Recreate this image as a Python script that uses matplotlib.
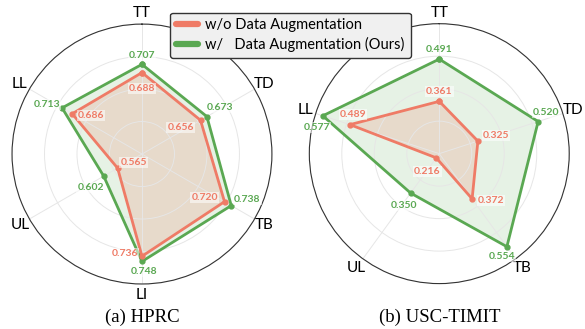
import numpy as np
import matplotlib.pyplot as plt

plt.rcParams['font.family'] = ['Lato', 'DejaVu Sans']

# HPRC (6 axes, clockwise from top)
hprc_labels = ["TT", "TD", "TB", "LI", "UL", "LL"]
hprc_base = [0.688, 0.656, 0.720, 0.736, 0.565, 0.686]
hprc_ours = [0.707, 0.673, 0.738, 0.748, 0.602, 0.713]

# USC-TIMIT (5 axes, clockwise from top)
usc_labels = ["TT", "TD", "TB", "UL", "LL"]
usc_base = [0.361, 0.325, 0.372, 0.216, 0.489]
usc_ours = [0.491, 0.520, 0.554, 0.350, 0.577]

RED = "#ef7b66"
GREEN = "#5aa852"

# value-label offsets in pixels (style only)
hprc_base_off = [(0, -16), (-20, -7), (-20, 4), (-17, 3), (16, 6), (19, -2)]
hprc_ours_off = [(0, 9), (13, 9), (16, 6), (2, -10), (-13, -11), (-15, 3)]
usc_base_off = [(0, 10), (18, 6), (19, -2), (-9, -14), (3, 10)]
usc_ours_off = [(0, 10), (8, 9), (-5, -10), (-7, -12), (-6, -12)]


def radar(ax, labels, base, ours, rlim, rticks, base_off, ours_off):
    n = len(labels)
    angles = np.linspace(0, 2 * np.pi, n, endpoint=False)
    ax.set_theta_offset(np.pi / 2)
    ax.set_theta_direction(-1)

    closed = np.append(angles, angles[0])
    for vals, color, falpha, offs in [(ours, GREEN, 0.15, ours_off),
                                      (base, RED, 0.2, base_off)]:
        v = np.append(vals, vals[0])
        ax.fill(closed, v, color=color, alpha=falpha, lw=0)
        ax.plot(closed, v, color=color, lw=2, marker="o", ms=3.5)
        for a, val, (dx, dy) in zip(angles, vals, offs):
            ax.annotate(f"{val:.3f}", (a, val), xytext=(dx, dy),
                        textcoords="offset pixels", ha="center", va="center",
                        fontsize=7.5, fontweight="bold", color=color,
                        bbox=dict(boxstyle="square,pad=0.1", fc="white",
                                  ec="none", alpha=0.55))

    ax.set_ylim(*rlim)
    ax.set_rticks(rticks)
    ax.set_yticklabels([])
    ax.set_xticks(angles)
    ax.set_xticklabels(labels, fontsize=11)
    ax.tick_params(axis="x", pad=1, length=0)
    ax.grid(color="#e6e6e6", lw=0.7)
    ax.spines["polar"].set_color("#333333")
    ax.spines["polar"].set_linewidth(0.8)


fig = plt.figure(figsize=(5.85, 3.29), dpi=100)
ax1 = fig.add_axes([0.0205, 0.1368, 0.4444, 0.790], projection="polar")
ax2 = fig.add_axes([0.5287, 0.138, 0.4444, 0.790], projection="polar")

radar(ax1, hprc_labels, hprc_base, hprc_ours, (0.5, 0.8),
      np.linspace(0.575, 0.8, 4), hprc_base_off, hprc_ours_off)
radar(ax2, usc_labels, usc_base, usc_ours, (0.2, 0.6),
      [0.3, 0.4, 0.5, 0.6], usc_base_off, usc_ours_off)

fig.text(0.243, 0.035, "(a) HPRC", ha="center", va="center",
         family="Liberation Serif", fontsize=13.5)
fig.text(0.751, 0.035, "(b) USC-TIMIT", ha="center", va="center",
         family="Liberation Serif", fontsize=13.5)

h1, = ax1.plot([], [], color=RED, lw=4.5, solid_capstyle="round")
h2, = ax1.plot([], [], color=GREEN, lw=4.5, solid_capstyle="round")
leg = fig.legend([h1, h2], ["w/o Data Augmentation", "w/   Data Augmentation (Ours)"],
                 loc="upper center", bbox_to_anchor=(0.4966, 0.962),
                 fontsize=10.5, handlelength=1.5, borderpad=0.4,
                 labelspacing=0.3, handletextpad=0.5, borderaxespad=0,
                 frameon=True, fancybox=True)
leg.get_frame().set_edgecolor("#333333")
leg.get_frame().set_facecolor("#f0f0f0")
leg.get_frame().set_linewidth(1.0)
leg.get_frame().set_alpha(1)

fig.savefig("out.png", dpi=100)
